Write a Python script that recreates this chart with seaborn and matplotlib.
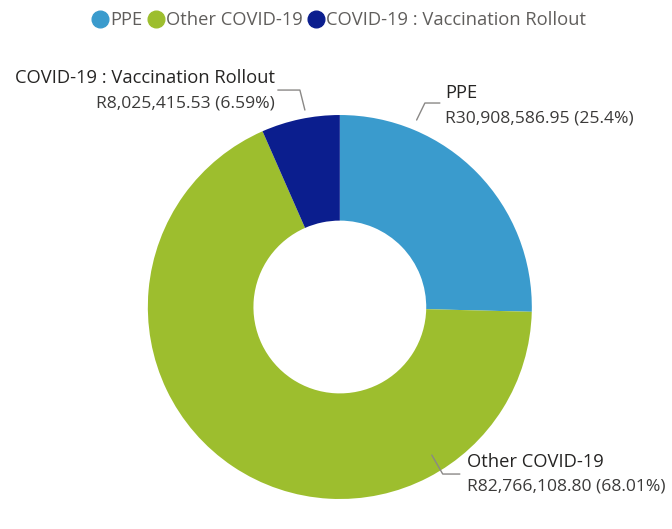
import numpy as np
import matplotlib.pyplot as plt
from matplotlib.lines import Line2D
import seaborn as sns

# data
categories = ["PPE", "Other COVID-19", "COVID-19 : Vaccination Rollout"]
amounts = [30908586.95, 82766108.80, 8025415.53]
pct_labels = ["25.4%", "68.01%", "6.59%"]
colors = ["#3A9BCD", "#9DBE2E", "#0B1E8E"]

sns.set_theme(style="white")
plt.rcParams['font.family'] = ['Open Sans', 'DejaVu Sans']

fig = plt.figure(figsize=(6.72, 5.29), dpi=100)
ax = fig.add_axes([0.220, 0.0567, 0.5714, 0.7259])

wedges, _ = ax.pie(amounts, colors=colors, startangle=90, counterclock=False,
                   radius=1.0, wedgeprops=dict(width=0.55, edgecolor="none"))
ax.set_xlim(-1, 1)
ax.set_ylim(-1, 1)
ax.set_aspect("equal")
ax.axis("off")

name_c = "#252423"
val_c = "#3b3a39"
line_c = "#8a8886"
fs_name = 13.2
fs_val = 12.6

# leader lines and labels (axes data coords)
leaders = {
    0: [(0.40, 0.974), (0.443, 1.0625), (0.521, 1.0625)],
    1: [(0.479, -0.771), (0.536, -0.870), (0.625, -0.870)],
    2: [(-0.182, 1.026), (-0.208, 1.13), (-0.323, 1.13)],
}
for i, pts in leaders.items():
    xs, ys = zip(*pts)
    ax.plot(xs, ys, color=line_c, lw=1.0, clip_on=False)

def money(v):
    return "R{:,.2f}".format(v)

ax.text(0.547, 1.115, categories[0], ha="left", va="center", fontsize=fs_name, color=name_c, clip_on=False)
ax.text(0.547, 0.984, f"{money(amounts[0])} ({pct_labels[0]})", ha="left", va="center", fontsize=fs_val, color=val_c, clip_on=False)
ax.text(0.661, -0.807, categories[1], ha="left", va="center", fontsize=fs_name, color=name_c, clip_on=False)
ax.text(0.661, -0.9375, f"{money(amounts[1])} ({pct_labels[1]})", ha="left", va="center", fontsize=fs_val, color=val_c, clip_on=False)
ax.text(-0.339, 1.193, categories[2], ha="right", va="center", fontsize=fs_name, color=name_c, clip_on=False)
ax.text(-0.339, 1.0625, f"{money(amounts[2])} ({pct_labels[2]})", ha="right", va="center", fontsize=fs_val, color=val_c, clip_on=False)

handles = [Line2D([0], [0], marker="o", color="none", markerfacecolor=c,
                  markeredgecolor=c, markersize=12) for c in colors]
fig.legend(handles, categories, loc="upper center", bbox_to_anchor=(0.503, 1.01),
           ncol=3, frameon=False, fontsize=13.2, handletextpad=0.0,
           columnspacing=0.2, handlelength=1.1, labelcolor="#605E5C")

fig.savefig("out.png", dpi=100)
